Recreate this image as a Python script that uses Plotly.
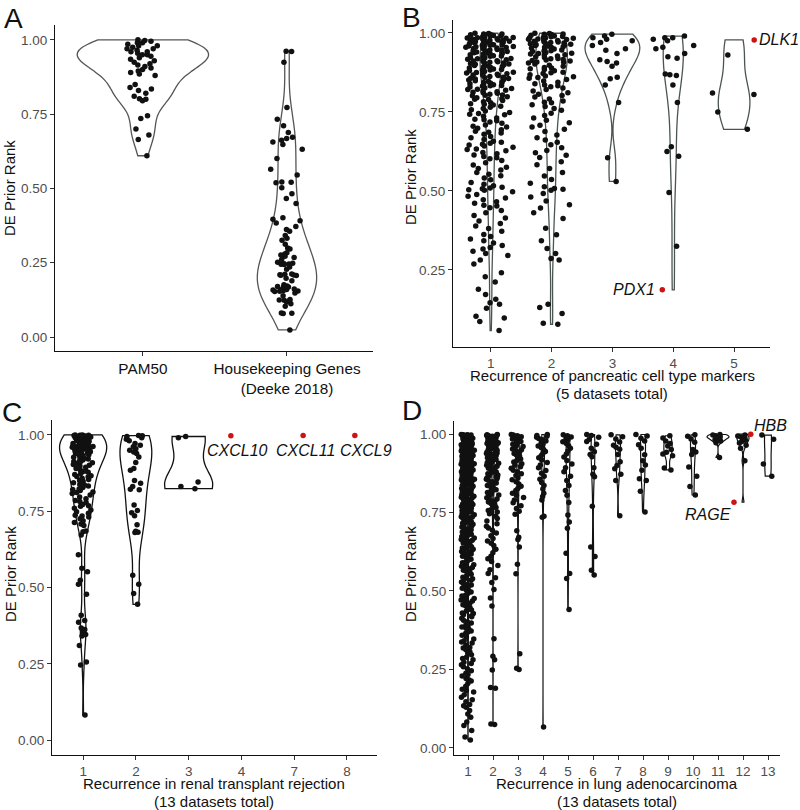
import numpy as np
import plotly.graph_objects as go

# ---------------- DATA ----------------
# Panel A
A_CATS = ["PAM50", "Housekeeping Genes<br>(Deeke 2018)"]
A_PAM50 = [1.000, 0.998, 0.995, 0.990, 0.990, 0.985, 0.980, 0.980, 0.975, 0.970, 0.970, 0.965,
           0.960, 0.960, 0.955, 0.950, 0.950, 0.945, 0.940, 0.935, 0.930, 0.925, 0.920, 0.915,
           0.910, 0.905, 0.900, 0.895, 0.890, 0.885, 0.880, 0.850, 0.840, 0.835, 0.830, 0.820,
           0.810, 0.800, 0.795, 0.802, 0.745, 0.735, 0.700, 0.680, 0.665, 0.610]
A_HOUSEKEEPING = [0.962, 0.961, 0.925, 0.772, 0.733, 0.711, 0.688, 0.672, 0.668, 0.662, 0.656, 0.648,
                  0.632, 0.601, 0.565, 0.545, 0.522, 0.521, 0.519, 0.502, 0.482, 0.466, 0.449, 0.401,
                  0.396, 0.391, 0.384, 0.372, 0.362, 0.356, 0.342, 0.332, 0.326, 0.312, 0.300, 0.296,
                  0.284, 0.279, 0.276, 0.272, 0.268, 0.261, 0.252, 0.248, 0.247, 0.246, 0.245, 0.244,
                  0.236, 0.228, 0.212, 0.211, 0.210, 0.209, 0.208, 0.207, 0.198, 0.189, 0.176, 0.172,
                  0.170, 0.169, 0.168, 0.162, 0.160, 0.159, 0.158, 0.157, 0.155, 0.154, 0.153, 0.148,
                  0.139, 0.126, 0.125, 0.124, 0.123, 0.118, 0.112, 0.104, 0.081, 0.080, 0.079, 0.024]

# Panel B: recurrence of pancreatic cell type markers
B_CATS = ["1", "2", "3", "4", "5"]
B_1 = [0.999, 0.997, 0.997, 0.995, 0.994, 0.992, 0.991, 0.991, 0.989, 0.988, 0.986, 0.985, 0.983,
       0.982, 0.982, 0.980, 0.978, 0.977, 0.975, 0.974, 0.974, 0.972, 0.970, 0.969, 0.967, 0.966,
       0.965, 0.963, 0.962, 0.960, 0.959, 0.958, 0.957, 0.955, 0.953, 0.952, 0.951, 0.950, 0.998,
       0.993, 0.987, 0.979, 0.971, 0.964, 0.956, 0.984, 0.976, 0.968, 0.961, 0.954,
       0.948, 0.946, 0.945, 0.943, 0.941, 0.940, 0.938, 0.936, 0.935, 0.933, 0.931, 0.929, 0.928,
       0.926, 0.924, 0.922, 0.921, 0.919, 0.917, 0.915, 0.914, 0.912, 0.910, 0.909, 0.907, 0.905,
       0.904, 0.902, 0.901, 0.944, 0.937, 0.927, 0.918, 0.911, 0.903, 0.932,
       0.899, 0.897, 0.895, 0.893, 0.891, 0.889, 0.887, 0.884, 0.882, 0.880, 0.878, 0.876, 0.873,
       0.871, 0.869, 0.867, 0.865, 0.862, 0.860, 0.858, 0.856, 0.854, 0.852, 0.851, 0.894, 0.886,
       0.875, 0.866, 0.857, 0.883, 0.870,
       0.849, 0.846, 0.844, 0.841, 0.839, 0.836, 0.834, 0.831, 0.829, 0.826, 0.824, 0.821, 0.819,
       0.816, 0.814, 0.811, 0.809, 0.806, 0.804, 0.801, 0.843, 0.833, 0.822, 0.812, 0.803, 0.838,
       0.798, 0.795, 0.792, 0.789, 0.786, 0.782, 0.779, 0.776, 0.772, 0.768, 0.765, 0.761, 0.757,
       0.753, 0.790, 0.774,
       0.748, 0.745, 0.743, 0.741, 0.736, 0.731, 0.727, 0.722, 0.718, 0.714, 0.709, 0.705, 0.702, 0.725,
       0.698, 0.694, 0.689, 0.683, 0.679, 0.672, 0.668, 0.663, 0.657, 0.654, 0.651, 0.686,
       0.648, 0.645, 0.642, 0.638, 0.633, 0.627, 0.622, 0.618, 0.614, 0.609, 0.605, 0.602, 0.631,
       0.596, 0.589, 0.582, 0.575, 0.571, 0.566, 0.558, 0.553,
       0.548, 0.541, 0.535, 0.527, 0.521, 0.516, 0.512, 0.509, 0.507, 0.504, 0.502,
       0.497, 0.489, 0.483, 0.478, 0.472, 0.466, 0.461, 0.455, 0.452,
       0.447, 0.438, 0.431, 0.422, 0.414, 0.405,
       0.397, 0.389, 0.381, 0.372, 0.362, 0.356,
       0.348, 0.342, 0.335, 0.327, 0.321, 0.316, 0.309, 0.302,
       0.296, 0.281, 0.269, 0.241, 0.228, 0.212, 0.189, 0.172, 0.157,
       0.146, 0.141, 0.129, 0.103, 0.098, 0.087, 0.058]
B_2 = [0.999, 0.998, 0.996, 0.995, 0.993, 0.991, 0.990, 0.988, 0.986, 0.985, 0.983, 0.981, 0.979,
       0.977, 0.976, 0.974, 0.972, 0.970, 0.968, 0.966, 0.964, 0.962, 0.960, 0.958, 0.956, 0.954,
       0.952, 0.951, 0.997, 0.989, 0.980, 0.971, 0.963, 0.955, 0.984, 0.967,
       0.949, 0.946, 0.944, 0.941, 0.938, 0.936, 0.933, 0.930, 0.927, 0.925, 0.922, 0.919, 0.916,
       0.913, 0.911, 0.908, 0.905, 0.902, 0.943, 0.931, 0.918, 0.907, 0.935, 0.914,
       0.898, 0.895, 0.891, 0.887, 0.884, 0.880, 0.876, 0.872, 0.868, 0.864, 0.861, 0.857, 0.853,
       0.889, 0.874, 0.859,
       0.848, 0.844, 0.839, 0.835, 0.830, 0.826, 0.821, 0.816, 0.811, 0.806, 0.802, 0.833,
       0.797, 0.791, 0.785, 0.779, 0.773, 0.767, 0.761, 0.755, 0.781,
       0.746, 0.739, 0.731, 0.724, 0.716, 0.708, 0.702,
       0.695, 0.688, 0.677, 0.668, 0.661, 0.654,
       0.646, 0.637, 0.628, 0.621, 0.613, 0.606,
       0.592, 0.583, 0.571, 0.558,
       0.547, 0.536, 0.524, 0.513, 0.508, 0.505, 0.502,
       0.492, 0.481, 0.468, 0.456, 0.446, 0.431, 0.413, 0.382, 0.361,
       0.342, 0.318, 0.302, 0.286, 0.281, 0.141, 0.131, 0.112, 0.081, 0.078]
B_3 = [0.996, 0.990, 0.985, 0.980, 0.975, 0.970, 0.960, 0.950, 0.945, 0.935, 0.915, 0.910,
       0.905, 0.895, 0.860, 0.855, 0.835, 0.780, 0.605, 0.530]
B_4 = [0.990, 0.985, 0.985, 0.980, 0.975, 0.960, 0.955, 0.950, 0.935, 0.925, 0.920, 0.870,
       0.868, 0.865, 0.835, 0.780, 0.640, 0.625, 0.610, 0.495, 0.325]
B_5 = [0.930, 0.810, 0.805, 0.750, 0.695]
B_HL_GENES = ["PDX1", "DLK1"]
B_HL_CATS = ["4", "5"]
B_HL_VALUES = [0.187, 0.978]

# Panel C: recurrence in renal transplant rejection
C_CATS = ["1", "2", "3", "4", "7", "8"]
C_1 = [1.000, 1.000, 0.999, 0.999, 0.998, 0.998, 0.997, 0.996, 0.996, 0.995, 0.994, 0.993, 0.992,
       0.991, 0.990, 0.989, 0.988, 0.987, 0.986, 0.985, 0.984, 0.983, 0.981, 0.980, 0.979, 0.978,
       0.976, 0.975, 0.974, 0.972, 0.971, 0.970, 0.968, 0.967, 0.965, 0.964, 0.962, 0.961, 0.959,
       0.958, 0.956, 0.955, 0.953, 0.952, 0.951, 0.997, 0.993, 0.985, 0.977, 0.969, 0.960, 0.954,
       0.949, 0.947, 0.945, 0.942, 0.940, 0.937, 0.935, 0.932, 0.930, 0.927, 0.924, 0.921, 0.918,
       0.915, 0.912, 0.909, 0.906, 0.903, 0.901, 0.938, 0.926, 0.913,
       0.898, 0.894, 0.890, 0.886, 0.882, 0.878, 0.874, 0.870, 0.866, 0.862, 0.858, 0.854, 0.851,
       0.880, 0.864,
       0.848, 0.843, 0.838, 0.833, 0.828, 0.823, 0.818, 0.813, 0.808, 0.803, 0.836, 0.821, 0.811,
       0.797, 0.791, 0.785, 0.779, 0.772, 0.766, 0.760, 0.754, 0.782, 0.768,
       0.748, 0.743, 0.737, 0.731, 0.725, 0.719, 0.713, 0.708, 0.703, 0.734,
       0.685, 0.672, 0.683, 0.607, 0.563, 0.552, 0.524, 0.511, 0.478, 0.409, 0.392, 0.386, 0.367,
       0.362, 0.354, 0.346, 0.341, 0.310, 0.256, 0.246, 0.082]
C_2 = [0.998, 0.997, 0.995, 0.991, 0.986, 0.981, 0.972, 0.966, 0.961, 0.955, 0.950, 0.944, 0.939,
       0.928, 0.910, 0.890, 0.884, 0.851, 0.842, 0.831, 0.822, 0.820, 0.770, 0.752, 0.745, 0.735,
       0.706, 0.684, 0.681, 0.680, 0.540, 0.511, 0.480, 0.445]
C_3 = [0.995, 0.991, 0.846, 0.831, 0.824]
C_HL_GENES = ["CXCL10", "CXCL11", "CXCL9"]
C_HL_CATS = ["4", "7", "8"]
C_HL_VALUES = [0.997, 0.998, 0.998]

# Panel D: recurrence in lung adenocarcinoma
D_CATS = ["1", "2", "3", "4", "5", "6", "7", "8", "9", "10", "11", "12", "13"]
D_1 = [0.999, 0.998, 0.998, 0.997, 0.996, 0.995, 0.994, 0.993, 0.992, 0.991, 0.990, 0.989, 0.988,
       0.986, 0.985, 0.984, 0.982, 0.981, 0.980, 0.978, 0.977, 0.976, 0.974, 0.973, 0.972, 0.970,
       0.969, 0.968, 0.966, 0.965, 0.963, 0.962, 0.961, 0.959, 0.958, 0.957, 0.955, 0.954, 0.953,
       0.951, 0.950, 0.996, 0.987, 0.975, 0.964,
       0.949, 0.948, 0.946, 0.945, 0.943, 0.942, 0.940, 0.939, 0.937, 0.936, 0.934, 0.932, 0.931,
       0.929, 0.928, 0.926, 0.924, 0.923, 0.921, 0.919, 0.918, 0.916, 0.914, 0.913, 0.911, 0.909,
       0.908, 0.906, 0.904, 0.903, 0.901, 0.944, 0.933, 0.917, 0.905,
       0.899, 0.897, 0.896, 0.894, 0.892, 0.890, 0.888, 0.886, 0.884, 0.882, 0.880, 0.878, 0.876,
       0.874, 0.872, 0.870, 0.868, 0.866, 0.864, 0.862, 0.860, 0.858, 0.856, 0.854, 0.852, 0.851,
       0.893, 0.877, 0.863, 0.855,
       0.849, 0.847, 0.845, 0.843, 0.841, 0.838, 0.836, 0.834, 0.832, 0.829, 0.827, 0.825, 0.823,
       0.820, 0.818, 0.816, 0.813, 0.811, 0.809, 0.806, 0.804, 0.802, 0.801, 0.844, 0.831, 0.822,
       0.812, 0.807,
       0.799, 0.797, 0.794, 0.792, 0.789, 0.787, 0.784, 0.782, 0.779, 0.777, 0.774, 0.772, 0.769,
       0.767, 0.764, 0.762, 0.759, 0.757, 0.754, 0.752, 0.751, 0.791, 0.776, 0.766, 0.756,
       0.748, 0.746, 0.743, 0.740, 0.737, 0.734, 0.731, 0.728, 0.725, 0.722, 0.719, 0.716, 0.713,
       0.710, 0.707, 0.704, 0.702, 0.745, 0.733, 0.721, 0.709, 0.736,
       0.698, 0.695, 0.692, 0.688, 0.685, 0.681, 0.678, 0.674, 0.671, 0.667, 0.664, 0.660, 0.657,
       0.653, 0.651, 0.690, 0.676, 0.662, 0.683, 0.669,
       0.648, 0.645, 0.641, 0.637, 0.633, 0.629, 0.626, 0.622, 0.618, 0.614, 0.611, 0.607, 0.603,
       0.601, 0.639, 0.624, 0.612, 0.631,
       0.597, 0.593, 0.588, 0.584, 0.579, 0.575, 0.570, 0.566, 0.561, 0.557, 0.553, 0.590, 0.572,
       0.563, 0.581,
       0.548, 0.544, 0.539, 0.534, 0.529, 0.524, 0.519, 0.514, 0.509, 0.504, 0.501, 0.537, 0.521, 0.511,
       0.497, 0.492, 0.487, 0.481, 0.476, 0.471, 0.466, 0.461, 0.456, 0.452, 0.484, 0.468, 0.473,
       0.447, 0.442, 0.436, 0.430, 0.424, 0.418, 0.413, 0.407, 0.402, 0.439, 0.421, 0.428,
       0.398, 0.392, 0.385, 0.378, 0.372, 0.365, 0.359, 0.353, 0.388, 0.369, 0.381,
       0.347, 0.341, 0.334, 0.327, 0.320, 0.313, 0.306, 0.301, 0.337, 0.318,
       0.297, 0.289, 0.281, 0.273, 0.265, 0.258, 0.252, 0.285, 0.269,
       0.246, 0.238, 0.229, 0.221, 0.213, 0.205, 0.234, 0.217,
       0.196, 0.187, 0.178, 0.169, 0.161, 0.153, 0.183,
       0.147, 0.138, 0.129, 0.119, 0.108, 0.134,
       0.097, 0.082, 0.071, 0.055, 0.034, 0.025]
D_2 = [0.999, 0.998, 0.996, 0.995, 0.993, 0.991, 0.990, 0.988, 0.986, 0.984, 0.982, 0.980, 0.978,
       0.976, 0.974, 0.972, 0.970, 0.968, 0.966, 0.964, 0.962, 0.960, 0.958, 0.956, 0.954, 0.952,
       0.997, 0.985, 0.973, 0.961,
       0.949, 0.946, 0.943, 0.940, 0.937, 0.934, 0.931, 0.928, 0.925, 0.922, 0.919, 0.916, 0.913,
       0.910, 0.907, 0.904, 0.901, 0.944, 0.932, 0.920, 0.908, 0.938,
       0.898, 0.895, 0.891, 0.888, 0.884, 0.881, 0.877, 0.874, 0.870, 0.867, 0.863, 0.860, 0.856,
       0.853, 0.893, 0.879, 0.865, 0.858,
       0.848, 0.844, 0.840, 0.836, 0.831, 0.827, 0.823, 0.818, 0.814, 0.810, 0.806, 0.802, 0.838, 0.821,
       0.797, 0.793, 0.788, 0.784, 0.779, 0.775, 0.770, 0.766, 0.761, 0.757, 0.752, 0.786,
       0.746, 0.738, 0.731, 0.723, 0.714, 0.706, 0.701,
       0.694, 0.685, 0.676, 0.667, 0.659, 0.652,
       0.645, 0.633, 0.622, 0.611, 0.603,
       0.594, 0.581, 0.568, 0.556, 0.542, 0.527, 0.505, 0.478, 0.452,
       0.348, 0.292, 0.281, 0.248, 0.192, 0.190, 0.076, 0.074]
D_3 = [0.999, 0.997, 0.995, 0.992, 0.990, 0.988, 0.985, 0.982, 0.980, 0.977, 0.974, 0.971, 0.968,
       0.964, 0.961, 0.957, 0.953, 0.950, 0.946, 0.942, 0.938, 0.934, 0.930, 0.925, 0.921, 0.916,
       0.911, 0.906, 0.901, 0.896, 0.891, 0.885, 0.880, 0.874, 0.868, 0.861, 0.855, 0.848, 0.841,
       0.834, 0.827, 0.820, 0.812, 0.805, 0.798, 0.790, 0.781, 0.772, 0.763, 0.754, 0.745, 0.692,
       0.671, 0.664, 0.640, 0.585, 0.555, 0.300, 0.254, 0.250]
D_4 = [0.999, 0.996, 0.993, 0.990, 0.986, 0.982, 0.978, 0.973, 0.968, 0.962, 0.957, 0.951, 0.945,
       0.939, 0.932, 0.925, 0.918, 0.910, 0.902, 0.893, 0.884, 0.875, 0.866, 0.856, 0.846, 0.836,
       0.825, 0.812, 0.801, 0.790, 0.738, 0.735, 0.066]
D_5 = [0.998, 0.995, 0.991, 0.987, 0.982, 0.976, 0.970, 0.963, 0.955, 0.946, 0.937, 0.927, 0.916,
       0.905, 0.893, 0.880, 0.866, 0.852, 0.836, 0.820, 0.805, 0.782, 0.742, 0.720, 0.700, 0.620,
       0.556, 0.540, 0.441]
D_6 = [0.999, 0.996, 0.990, 0.984, 0.977, 0.968, 0.955, 0.944, 0.935, 0.928, 0.893, 0.872, 0.864,
       0.770, 0.640, 0.610, 0.566, 0.551]
D_7 = [0.998, 0.992, 0.985, 0.975, 0.965, 0.958, 0.952, 0.935, 0.912, 0.900, 0.890, 0.872, 0.852, 0.740]
D_8 = [0.999, 0.994, 0.987, 0.978, 0.966, 0.955, 0.934, 0.915, 0.902, 0.885, 0.858, 0.852, 0.818, 0.752]
D_9 = [0.995, 0.988, 0.978, 0.970, 0.962, 0.951, 0.942, 0.937, 0.931, 0.892, 0.886]
D_10 = [0.998, 0.993, 0.985, 0.974, 0.951, 0.943, 0.935, 0.895, 0.866, 0.833, 0.806]
D_11 = [0.999, 0.997, 0.995, 0.993, 0.991, 0.989, 0.986, 0.983, 0.978, 0.973, 0.926]
D_12 = [0.997, 0.994, 0.991, 0.988, 0.985, 0.981, 0.977, 0.972, 0.965, 0.955, 0.915]
D_13 = [0.997, 0.984, 0.905, 0.866]
D_HL_GENES = ["RAGE", "HBB"]
D_HL_CATS = ["12", "12"]
D_HL_VALUES = [0.783, 1.000]

Y_TICKS = [0.0, 0.25, 0.5, 0.75, 1.0]
Y_TICK_LABELS = ["0.00", "0.25", "0.50", "0.75", "1.00"]

# ---------------- STYLE / LAYOUT ----------------
W, H = 800, 810
FONT = "Liberation Sans, Arial, Helvetica, sans-serif"
GRAY = "#4D4D4D"
RED = "#CC1414"
PT = 5.5
CHUNK = 30  # points per jitter group (keeps horizontal spread more uniform, like geom_jitter)


def px(x):
    return x / W


def py(y):
    return 1 - y / H


def nrd0(vals):
    v = np.asarray(vals, dtype=float)
    sd = v.std(ddof=1)
    iqr = np.subtract(*np.percentile(v, [75, 25]))
    lo = min(sd, iqr / 1.34) if iqr > 0 else sd
    if lo <= 0:
        lo = abs(v[0]) if v[0] != 0 else 1.0
    return 0.9 * lo * len(v) ** (-0.2)


fig = go.Figure()

panels = [
    dict(n=1, cats=A_CATS, groups=[A_PAM50, A_HOUSEKEEPING], hl=([], [], []),
         vwidth=[0.91, 0.41], jit=0.25, vcolor="#555555", vlw=1.3,
         dom_x=(55, 373), dom_y=(25, 351), xr=(-0.61, 1.597), yr=(-0.047, 1.05),
         xfont=dict(size=15.3, color="#111111")),
    dict(n=2, cats=B_CATS, groups=[B_1, B_2, B_3, B_4, B_5],
         hl=(B_HL_GENES, B_HL_CATS, B_HL_VALUES),
         vwidth=[0.35, 0.52, 0.9, 0.33, 0.52], jit=0.84, vcolor="#4a5553", vlw=1.3,
         dom_x=(453, 770), dom_y=(20, 347), xr=(-0.62, 4.59), yr=(0.006, 1.041),
         xfont=dict(size=13.5, color=GRAY)),
    dict(n=3, cats=C_CATS, groups=[C_1, C_2, C_3, [], [], []],
         hl=(C_HL_GENES, C_HL_CATS, C_HL_VALUES),
         vwidth=[0.89, 0.6, 0.91, 0, 0, 0], jit=0.46, vcolor="#111111", vlw=1.3,
         dom_x=(52, 377), dom_y=(420, 755), xr=(-0.59, 5.57), yr=(-0.049, 1.049),
         xfont=dict(size=13.5, color=GRAY)),
    dict(n=4, cats=D_CATS, groups=[D_1, D_2, D_3, D_4, D_5, D_6, D_7, D_8, D_9, D_10, D_11, D_12, D_13],
         hl=(D_HL_GENES, D_HL_CATS, D_HL_VALUES),
         vwidth=[0.08, 0.1, 0.1, 0.12, 0.15, 0.15, 0.2, 0.2, 0.33, 0.2, 0.88, 0.48, 0.28],
         jit=0.58, vcolor="#111111", vlw=1.2,
         dom_x=(454, 780), dom_y=(421, 755), xr=(-0.56, 12.48), yr=(-0.023, 1.042),
         xfont=dict(size=13.5, color=GRAY)),
]

# offsets (in category units) of the highlighted points and label placement
HL_STYLE = {
    "PDX1": dict(off=-0.18, xanchor="right", xshift=-5, yshift=0),
    "DLK1": dict(off=0.33, xanchor="left", xshift=3, yshift=0),
    "CXCL10": dict(off=-0.20, xanchor="center", xshift=7, yshift=-15),
    "CXCL11": dict(off=0.17, xanchor="center", xshift=2, yshift=-15),
    "CXCL9": dict(off=0.15, xanchor="center", xshift=11, yshift=-15),
    "RAGE": dict(off=-0.36, xanchor="right", xshift=-1, yshift=-12),
    "HBB": dict(off=0.31, xanchor="left", xshift=1, yshift=9),
}
HL_BOX_W = 0.4

annotations = []

for p in panels:
    n = p["n"]
    xa = "x" if n == 1 else f"x{n}"
    ya = "y" if n == 1 else f"y{n}"
    genes, hcats, hvals = p["hl"]
    # violins
    for cat, vals, w in zip(p["cats"], p["groups"], p["vwidth"]):
        full = list(vals) + [v for c, v in zip(hcats, hvals) if c == cat]
        if len(full) < 2:
            continue
        fig.add_trace(go.Violin(
            x=[cat] * len(full), y=full, xaxis=xa, yaxis=ya,
            width=w, spanmode="hard", points=False, bandwidth=nrd0(full),
            line=dict(color=p["vcolor"], width=p["vlw"]),
            fillcolor="rgba(255,255,255,0)", box_visible=False, meanline_visible=False,
            hoverinfo="skip", showlegend=False))
    # jittered points, in groups of neighbouring values so the spread is more uniform
    for cat, vals in zip(p["cats"], p["groups"]):
        if not vals:
            continue
        sv = sorted(vals)
        nch = max(1, round(len(sv) / CHUNK))
        bounds = np.linspace(0, len(sv), nch + 1).round().astype(int)
        for a, b in zip(bounds[:-1], bounds[1:]):
            part = sv[a:b]
            fig.add_trace(go.Box(
                x=[cat] * len(part), y=part, xaxis=xa, yaxis=ya, width=p["jit"],
                boxpoints="all", jitter=1, pointpos=0,
                fillcolor="rgba(0,0,0,0)", line=dict(width=0, color="rgba(0,0,0,0)"),
                marker=dict(color="#111111", size=PT, line=dict(width=0)),
                hoverinfo="skip", showlegend=False))
    # highlighted genes
    for g, c, v in zip(genes, hcats, hvals):
        st = HL_STYLE[g]
        fig.add_trace(go.Box(
            x=[c], y=[v], xaxis=xa, yaxis=ya, width=HL_BOX_W,
            boxpoints="all", jitter=0, pointpos=st["off"] / (HL_BOX_W / 2),
            fillcolor="rgba(0,0,0,0)", line=dict(width=0, color="rgba(0,0,0,0)"),
            marker=dict(color=RED, size=PT, line=dict(width=0)),
            hoverinfo="skip", showlegend=False))
        annotations.append(dict(
            xref=xa, yref=ya, x=p["cats"].index(c) + st["off"], y=v, text=f"<i>{g}</i>",
            showarrow=False, xanchor=st["xanchor"], yanchor="middle",
            xshift=st["xshift"], yshift=st["yshift"],
            font=dict(family=FONT, size=16, color="#111111")))

    axis_common = dict(showline=True, linecolor="#111111", linewidth=1.1, ticks="outside",
                       ticklen=4, tickwidth=1, tickcolor="#333333", showgrid=False,
                       zeroline=False, fixedrange=True)
    x0, x1 = p["dom_x"]
    y0, y1 = p["dom_y"]
    fig.update_layout(**{
        ("xaxis" if n == 1 else f"xaxis{n}"): dict(
            axis_common, type="category", categoryorder="array", categoryarray=p["cats"],
            range=list(p["xr"]), domain=[px(x0), px(x1)], anchor=ya,
            tickfont=dict(family=FONT, **p["xfont"])),
        ("yaxis" if n == 1 else f"yaxis{n}"): dict(
            axis_common, range=list(p["yr"]), domain=[py(y1), py(y0)], anchor=xa,
            tickvals=Y_TICKS, ticktext=Y_TICK_LABELS,
            tickfont=dict(family=FONT, size=13.5, color=GRAY)),
    })

# panel letters
for letter, (lx, ly) in zip("ABCD", [(2, 18), (400, 17), (0, 412), (400, 410)]):
    annotations.append(dict(xref="paper", yref="paper", x=px(lx), y=py(ly), text=letter,
                            showarrow=False, xanchor="left", yanchor="middle",
                            font=dict(family=FONT, size=28, color="#111111")))

# y-axis titles
for (tx, ty) in [(10, 188), (410, 177), (10, 574), (410, 574)]:
    annotations.append(dict(xref="paper", yref="paper", x=px(tx), y=py(ty), text="DE Prior Rank",
                            textangle=-90, showarrow=False, xanchor="center", yanchor="middle",
                            font=dict(family=FONT, size=15, color="#111111")))

# x-axis titles (one annotation per line)
for text, (tx, ty) in [
    ("Recurrence of pancreatic cell type markers", (612, 376)),
    ("(5 datasets total)", (612, 393)),
    ("Recurrence in renal transplant rejection", (214, 783)),
    ("(13 datasets total)", (214, 801)),
    ("Recurrence in lung adenocarcinoma", (617, 783)),
    ("(13 datasets total)", (617, 801)),
]:
    annotations.append(dict(xref="paper", yref="paper", x=px(tx), y=py(ty), text=text,
                            showarrow=False, xanchor="center", yanchor="middle",
                            font=dict(family=FONT, size=15, color="#111111")))

fig.update_layout(
    width=W, height=H, margin=dict(l=0, r=0, t=0, b=0),
    paper_bgcolor="white", plot_bgcolor="white", showlegend=False,
    violinmode="overlay", boxmode="overlay",
    font=dict(family=FONT, color="#111111"),
    annotations=annotations,
)

fig.write_html("out.html", config={"displayModeBar": False},
               post_script="document.body.style.margin='0';document.body.style.overflow='hidden';")
